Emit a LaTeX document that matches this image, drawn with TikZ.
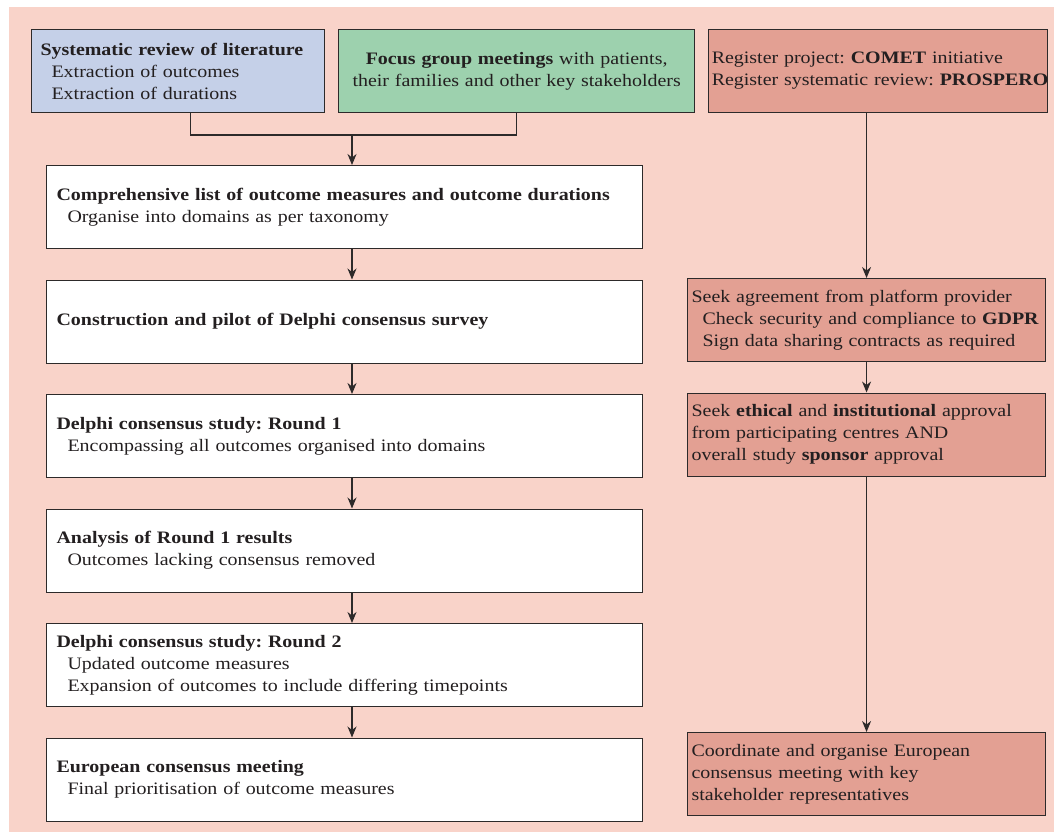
\documentclass[tikz,border=0pt]{standalone}
\usepackage{fontspec}
\setmainfont{Liberation Serif}[FakeStretch=1.14]
\usepackage{tikz}
\usetikzlibrary{arrows.meta}
\usetikzlibrary{positioning}
\definecolor{bgpink}{RGB}{249,211,201}
\definecolor{revblue}{RGB}{197,208,232}
\definecolor{focgreen}{RGB}{157,209,174}
\definecolor{regred}{RGB}{227,160,147}
\definecolor{linec}{RGB}{45,42,42}
\definecolor{txtc}{RGB}{35,31,32}
\newcommand{\ind}{\hspace*{11pt}}
\frenchspacing
\tikzset{box/.style={rectangle,draw=linec,line width=1.1pt,text=txtc,minimum height=83pt,align=left,inner ysep=3pt}}
\tikzset{stage/.style={box,fill=white,text width=576pt,inner xsep=10pt}}
\tikzset{side/.style={box,fill=regred,text width=350pt,inner xsep=4pt}}
\tikzset{link/.style={draw=linec,line width=1.1pt}}
\tikzset{arr/.style={link,-{Stealth[length=11pt,width=9pt,inset=3.5pt]}}}

\begin{document}
\begin{tikzpicture}[x=1pt,y=-1pt,node distance=30.4pt,font=\fontsize{17.5}{22}\selectfont]
\useasboundingbox (0,0) rectangle (1054,832);
\fill[bgpink] (9,7) rectangle (1054,832);

% top row
\node[box,fill=revblue,text width=275pt,inner xsep=9pt,anchor=north west] (sys) at (31,29)
  {\textbf{Systematic review of literature}\\ \ind Extraction of outcomes\\ \ind Extraction of durations};
\node[box,fill=focgreen,text width=340pt,inner xsep=8pt,align=center,right=13pt of sys] (focus)
  {\textbf{Focus group meetings} with patients,\\ their families and other key stakeholders};
\node[box,fill=regred,text width=333pt,inner xsep=3pt,right=13pt of focus] (reg)
  {\mbox{Register project: \textbf{COMET} initiative}\\ \mbox{Register systematic review: \textbf{PROSPERO}}};

% left column
\node[stage,anchor=north west] (c1) at (46,165)
  {\textbf{Comprehensive list of outcome measures and outcome durations}\\ \ind Organise into domains as per taxonomy};
\node[stage,below=of c1] (c2) {\textbf{Construction and pilot of Delphi consensus survey}};
\node[stage,below=of c2] (c3)
  {\textbf{Delphi consensus study: Round 1}\\ \ind Encompassing all outcomes organised into domains};
\node[stage,below=of c3] (c4)
  {\textbf{Analysis of Round 1 results}\\ \ind Outcomes lacking consensus removed};
\node[stage,below=of c4] (c5)
  {\textbf{Delphi consensus study: Round 2}\\ \ind Updated outcome measures\\ \ind Expansion of outcomes to include differing timepoints};
\node[stage,below=of c5] (c6)
  {\textbf{European consensus meeting}\\ \ind Final prioritisation of outcome measures};

% right column
\node[side,anchor=north west] (rA) at (687,278)
  {Seek agreement from platform provider\\ \ind \mbox{Check security and compliance to \textbf{GDPR}}\\ \ind Sign data sharing contracts as required};
\node[side,below=of rA] (rB)
  {Seek \textbf{ethical} and \textbf{institutional} approval\\ from participating centres AND\\ overall study \textbf{sponsor} approval};
\node[side,anchor=north west] (rC) at (687,732)
  {Coordinate and organise European\\ consensus meeting with key\\ stakeholder representatives};

% connectors
\coordinate (join) at (352,135);
\draw[link] ([xshift=12.5pt]sys.south) |- (focus.south |- join) -- (focus.south);
\draw[arr] (join) -- (c1.north -| join);
\foreach \a/\b in {c1/c2,c2/c3,c3/c4,c4/c5,c5/c6}
  \draw[arr] (\a.south -| join) -- (\b.north -| join);

\draw[arr] (rA.north |- reg.south) -- (rA.north);
\draw[arr] (rA) -- (rB);
\draw[arr] (rB) -- (rC);
\end{tikzpicture}
\end{document}
